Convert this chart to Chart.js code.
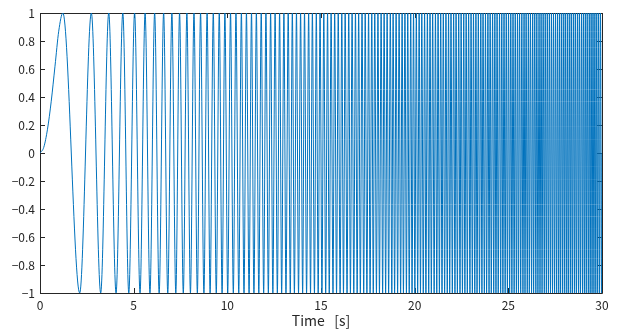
<!DOCTYPE html>
<html>
<head>
<meta charset="utf-8">
<script src="https://cdn.jsdelivr.net/npm/chart.js@4.4.1/dist/chart.umd.min.js"></script>
<style>
  html, body { margin: 0; padding: 0; background: #fff; }
  #chirpChart { display: block; }
</style>
</head>
<body>
<canvas id="chirpChart" width="620" height="331"></canvas>
<script>
// times (s) where the signal reaches +1
const peakTimes = [
  1.22, 2.74, 3.67, 4.42, 5.05, 5.61, 6.12, 6.60, 7.04, 7.45, 7.84, 8.22, 8.57, 8.92, 9.25, 9.57, 9.87,
  10.17, 10.46, 10.75, 11.02, 11.29, 11.55, 11.81, 12.06, 12.31, 12.55, 12.79, 13.02, 13.25, 13.47, 13.69, 13.91,
  14.12, 14.34, 14.54, 14.75, 14.95, 15.15, 15.35, 15.54, 15.73, 15.92, 16.11, 16.29, 16.48, 16.66, 16.84,
  17.01, 17.19, 17.36, 17.54, 17.71, 17.87, 18.04, 18.21, 18.37, 18.53, 18.70, 18.85, 19.01, 19.17, 19.33,
  19.48, 19.63, 19.79, 19.94, 20.09, 20.24, 20.38, 20.53, 20.68, 20.82, 20.96, 21.11, 21.25, 21.39, 21.53,
  21.67, 21.81, 21.94, 22.08, 22.21, 22.35, 22.48, 22.62, 22.75, 22.88, 23.01, 23.14, 23.27, 23.40, 23.53,
  23.65, 23.78, 23.91, 24.03, 24.16, 24.28, 24.40, 24.53, 24.65, 24.77, 24.89, 25.01, 25.13, 25.25, 25.37,
  25.49, 25.60, 25.72, 25.84, 25.95, 26.07, 26.18, 26.30, 26.41, 26.52, 26.64, 26.75, 26.86, 26.97, 27.08,
  27.19, 27.30, 27.41, 27.52, 27.63, 27.74, 27.85, 27.96, 28.06, 28.17, 28.28, 28.38, 28.49, 28.59, 28.70,
  28.80, 28.91, 29.01, 29.11, 29.21, 29.32, 29.42, 29.52, 29.62, 29.72, 29.82, 29.92
];
// times (s) where the signal reaches -1
const troughTimes = [
  2.12, 3.24, 4.06, 4.74, 5.34, 5.87, 6.36, 6.82, 7.25, 7.65, 8.03, 8.40, 8.75, 9.08, 9.41, 9.72,
  10.02, 10.32, 10.61, 10.89, 11.16, 11.42, 11.68, 11.94, 12.19, 12.43, 12.67, 12.90, 13.13, 13.36, 13.58,
  13.80, 14.02, 14.23, 14.44, 14.65, 14.85, 15.05, 15.25, 15.44, 15.64, 15.83, 16.02, 16.20, 16.39, 16.57,
  16.75, 16.93, 17.10, 17.28, 17.45, 17.62, 17.79, 17.96, 18.12, 18.29, 18.45, 18.61, 18.78, 18.93, 19.09,
  19.25, 19.40, 19.56, 19.71, 19.86, 20.01, 20.16, 20.31, 20.46, 20.60, 20.75, 20.89, 21.04, 21.18, 21.32,
  21.46, 21.60, 21.74, 21.87, 22.01, 22.15, 22.28, 22.42, 22.55, 22.68, 22.81, 22.95, 23.08, 23.21, 23.33,
  23.46, 23.59, 23.72, 23.84, 23.97, 24.09, 24.22, 24.34, 24.46, 24.59, 24.71, 24.83, 24.95, 25.07, 25.19,
  25.31, 25.43, 25.54, 25.66, 25.78, 25.89, 26.01, 26.12, 26.24, 26.35, 26.47, 26.58, 26.69, 26.80, 26.92,
  27.03, 27.14, 27.25, 27.36, 27.47, 27.58, 27.69, 27.79, 27.90, 28.01, 28.12, 28.22, 28.33, 28.43, 28.54,
  28.64, 28.75, 28.85, 28.96, 29.06, 29.16, 29.27, 29.37, 29.47, 29.57, 29.67, 29.77, 29.87, 29.98
];
// slow first rise before the first peak (time, value)
const riseTimes = [0, 0.2, 0.4, 0.6, 0.8, 1.0];
const riseValues = [0, 0.04, 0.17, 0.37, 0.62, 0.87];
// signal back at 0 at the end of the record
const endTime = 30;

const xLabel = 'Time   [s]';

const points = riseTimes.map((t, i) => ({ x: t, y: riseValues[i] }));
for (let i = 0; i < peakTimes.length; i++) {
  points.push({ x: peakTimes[i], y: 1 });
  if (i < troughTimes.length) points.push({ x: troughTimes[i], y: -1 });
}
points.push({ x: endTime, y: 0 });

const axisColor = '#262626';
const fontFamily = '"Noto Sans CJK JP", "Noto Sans", sans-serif';

// MATLAB style box with inward ticks on all four sides
const boxPlugin = {
  id: 'boxPlugin',
  beforeDatasetsDraw(chart) {
    const { ctx, chartArea: a, scales: { x, y } } = chart;
    const len = 5;
    ctx.save();
    ctx.strokeStyle = axisColor;
    ctx.lineWidth = 1;
    ctx.beginPath();
    ctx.rect(Math.round(a.left) + 0.5, Math.round(a.top) + 0.5,
             Math.round(a.right - a.left), Math.round(a.bottom - a.top));
    ctx.stroke();
    ctx.beginPath();
    x.ticks.forEach(t => {
      const px = Math.round(x.getPixelForValue(t.value)) + 0.5;
      ctx.moveTo(px, a.bottom); ctx.lineTo(px, a.bottom - len);
      ctx.moveTo(px, a.top); ctx.lineTo(px, a.top + len);
    });
    y.ticks.forEach(t => {
      const py = Math.round(y.getPixelForValue(t.value)) + 0.5;
      ctx.moveTo(a.left, py); ctx.lineTo(a.left + len, py);
      ctx.moveTo(a.right, py); ctx.lineTo(a.right - len, py);
    });
    ctx.stroke();
    ctx.restore();
  }
};

const ctx = document.getElementById('chirpChart').getContext('2d');
new Chart(ctx, {
  type: 'line',
  data: {
    datasets: [{
      data: points,
      borderColor: '#0072BD',
      borderWidth: 1,
      pointRadius: 0,
      cubicInterpolationMode: 'monotone',
      fill: false
    }]
  },
  options: {
    responsive: false,
    animation: false,
    events: [],
    layout: { padding: { left: 0, top: 13, right: 18, bottom: 0 } },
    plugins: { legend: { display: false }, tooltip: { enabled: false } },
    scales: {
      x: {
        type: 'linear',
        min: 0,
        max: 30,
        border: { display: false },
        grid: { display: false, drawTicks: false },
        ticks: {
          stepSize: 5,
          padding: 5,
          maxRotation: 0,
          color: axisColor,
          font: { family: fontFamily, size: 12 }
        },
        title: {
          display: true,
          text: xLabel,
          color: axisColor,
          padding: { top: 0, bottom: 2 },
          font: { family: fontFamily, size: 14 }
        },
        afterFit(s) { s.height = 38; }
      },
      y: {
        min: -1,
        max: 1,
        border: { display: false },
        grid: { display: false, drawTicks: false },
        ticks: {
          stepSize: 0.2,
          padding: 5,
          color: axisColor,
          font: { family: fontFamily, size: 12 },
          callback: v => {
            const r = Math.round(v * 10) / 10;
            return r < 0 ? '\u2212' + (-r) : String(r);
          }
        },
        afterFit(s) { s.width = 40; }
      }
    }
  },
  plugins: [boxPlugin]
});
</script>
</body>
</html>
